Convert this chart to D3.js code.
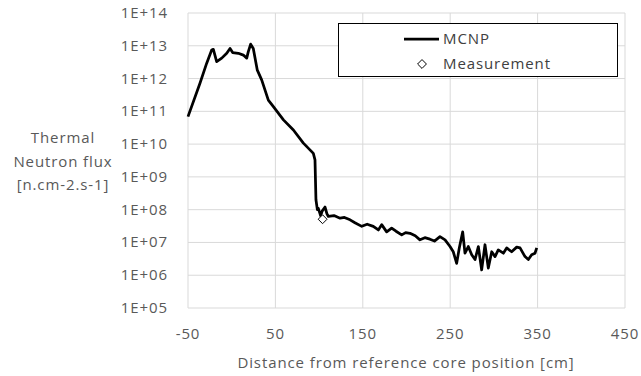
<!DOCTYPE html>
<html>
<head>
<meta charset="utf-8">
<script src="https://cdn.jsdelivr.net/npm/d3@7"></script>
<style>
  body { margin: 0; background: #fff; }
  text { font-family: "Open Sans", sans-serif; fill: #595959; font-size: 15px; letter-spacing: 0.9px; }
</style>
</head>
<body>
<svg id="chart" width="641" height="376"></svg>
<script>
// MCNP calculation, distance [cm] vs thermal flux [n.cm-2.s-1]
const mcnpDistance = [
    -50, -36.3, -28.6, -22.9, -21, -17.2, -11.4, -5.7, -1.9, 1.1, 7.6, 13.3, 17.2, 19, 21.7, 24.7,
    29.3, 34.3, 41.9, 47.7, 59.2, 70.6, 82, 91.5, 93.4, 95.3, 96.4, 98, 99.1, 101.8, 103.5, 106.8,
    109, 110.6, 117, 124, 129, 135.4, 141, 148.8, 155, 162, 167.8, 171.6, 177.3, 183, 188, 194.5,
    199, 204, 210, 215.4, 221, 226.8, 232, 238.3, 244.1, 249.8, 253.5, 257.4, 260.4, 264.3, 266.9,
    270.7, 274.6, 278.4, 282.2, 286, 289.8, 293.6, 297.5, 301.3, 305, 310.8, 314.6, 320.3, 326.1,
    329.9, 335.6, 339.4, 343.2, 347, 349
];
const mcnpFlux = [
    6.9e10, 7.2e11, 2.95e12, 7.4e12, 7.8e12, 3.3e12, 4.2e12, 5.9e12, 8.3e12, 6.2e12, 5.9e12, 5.2e12, 4.2e12, 6.6e12, 1.12e13, 8.3e12,
    1.8e12, 9.1e11, 2.2e11, 1.4e11, 5.5e10, 2.7e10, 1.07e10, 5.9e9, 5.2e9, 3.3e9, 2.0e8, 1.0e8, 1.1e8, 6.5e7, 9.0e7, 1.2e8,
    7.4e7, 6.2e7, 6.6e7, 5.5e7, 5.8e7, 4.9e7, 4.0e7, 3.1e7, 3.6e7, 3.1e7, 2.4e7, 3.5e7, 2.1e7, 2.75e7, 2.2e7, 1.7e7,
    2.0e7, 1.9e7, 1.6e7, 1.2e7, 1.4e7, 1.26e7, 1.1e7, 1.5e7, 1.2e7, 7.5e6, 5.2e6, 2.3e6, 6.8e6, 2.1e7, 4.7e6,
    7.5e6, 4.2e6, 3.0e6, 7.5e6, 1.45e6, 8.5e6, 1.65e6, 5.2e6, 3.7e6, 5.9e6, 4.7e6, 6.8e6, 5.2e6, 7.2e6,
    6.8e6, 3.7e6, 3.0e6, 4.2e6, 4.7e6, 6.8e6
];

// Measurement
const measDistance = [104];
const measFlux = [5.1e7];

const xTicks = [-50, 50, 150, 250, 350, 450];
const yTicks = [1e5, 1e6, 1e7, 1e8, 1e9, 1e10, 1e11, 1e12, 1e13, 1e14];
const yTitle = ["Thermal", "Neutron flux", "[n.cm-2.s-1]"];
const xTitle = "Distance from reference core position [cm]";
const seriesNames = ["MCNP", "Measurement"];

const svg = d3.select("#chart");
const plot = {left: 188, right: 625, top: 13, bottom: 308};

const x = d3.scaleLinear().domain([-50, 450]).range([plot.left, plot.right]);
const y = d3.scaleLog().domain([1e5, 1e14]).range([plot.bottom, plot.top]);

// grid
const grid = svg.append("g");
grid.selectAll("line.h")
    .data(yTicks)
    .enter().append("line")
    .attr("x1", plot.left).attr("x2", plot.right)
    .attr("y1", d => y(d)).attr("y2", d => y(d))
    .attr("stroke", "#d9d9d9").attr("stroke-width", 1);
grid.selectAll("line.v")
    .data(xTicks)
    .enter().append("line")
    .attr("y1", plot.top).attr("y2", plot.bottom)
    .attr("x1", d => x(d)).attr("x2", d => x(d))
    .attr("stroke", "#d9d9d9").attr("stroke-width", 1);

// tick labels
const fmtExp = d => "1E+" + String(Math.round(Math.log10(d))).padStart(2, "0");
svg.append("g").selectAll("text")
    .data(yTicks)
    .enter().append("text")
    .attr("x", 168).attr("y", d => y(d) + 5)
    .attr("text-anchor", "end")
    .text(fmtExp);
svg.append("g").selectAll("text")
    .data(xTicks)
    .enter().append("text")
    .attr("x", d => x(d)).attr("y", 339)
    .attr("text-anchor", "middle")
    .text(d => d);

// axis titles
svg.append("text")
    .attr("x", 406).attr("y", 368)
    .attr("text-anchor", "middle")
    .text(xTitle);
svg.append("g").selectAll("text")
    .data(yTitle)
    .enter().append("text")
    .attr("x", 63).attr("y", (d, i) => 143 + i * 23.5)
    .attr("text-anchor", "middle")
    .text(d => d);

// MCNP line
const mcnp = mcnpDistance.map((d, i) => ({x: d, y: mcnpFlux[i]}));
const line = d3.line().x(d => x(d.x)).y(d => y(d.y));
svg.append("path")
    .datum(mcnp)
    .attr("d", line)
    .attr("fill", "none")
    .attr("stroke", "#000")
    .attr("stroke-width", 2.75)
    .attr("stroke-linejoin", "round");

// Measurement diamonds
const diamond = d3.symbol().type(d3.symbolDiamond2).size(50);
svg.append("g").selectAll("path")
    .data(measDistance.map((d, i) => ({x: d, y: measFlux[i]})))
    .enter().append("path")
    .attr("d", diamond)
    .attr("transform", d => `translate(${x(d.x)}, ${y(d.y)})`)
    .attr("fill", "#fff")
    .attr("stroke", "#000")
    .attr("stroke-width", 1);

// legend
const legend = svg.append("g");
legend.append("rect")
    .attr("x", 338.5).attr("y", 23.5).attr("width", 279).attr("height", 53)
    .attr("fill", "#fff").attr("stroke", "#000").attr("stroke-width", 1);
legend.append("line")
    .attr("x1", 404).attr("x2", 439).attr("y1", 39).attr("y2", 39)
    .attr("stroke", "#000").attr("stroke-width", 2.75);
legend.append("path")
    .attr("d", diamond)
    .attr("transform", "translate(422, 64)")
    .attr("fill", "#fff").attr("stroke", "#000").attr("stroke-width", 1);
legend.selectAll("text.lbl")
    .data(seriesNames)
    .enter().append("text")
    .attr("x", 443).attr("y", (d, i) => 44 + i * 25)
    .style("fill", "#404040")
    .text(d => d);
</script>
</body>
</html>
